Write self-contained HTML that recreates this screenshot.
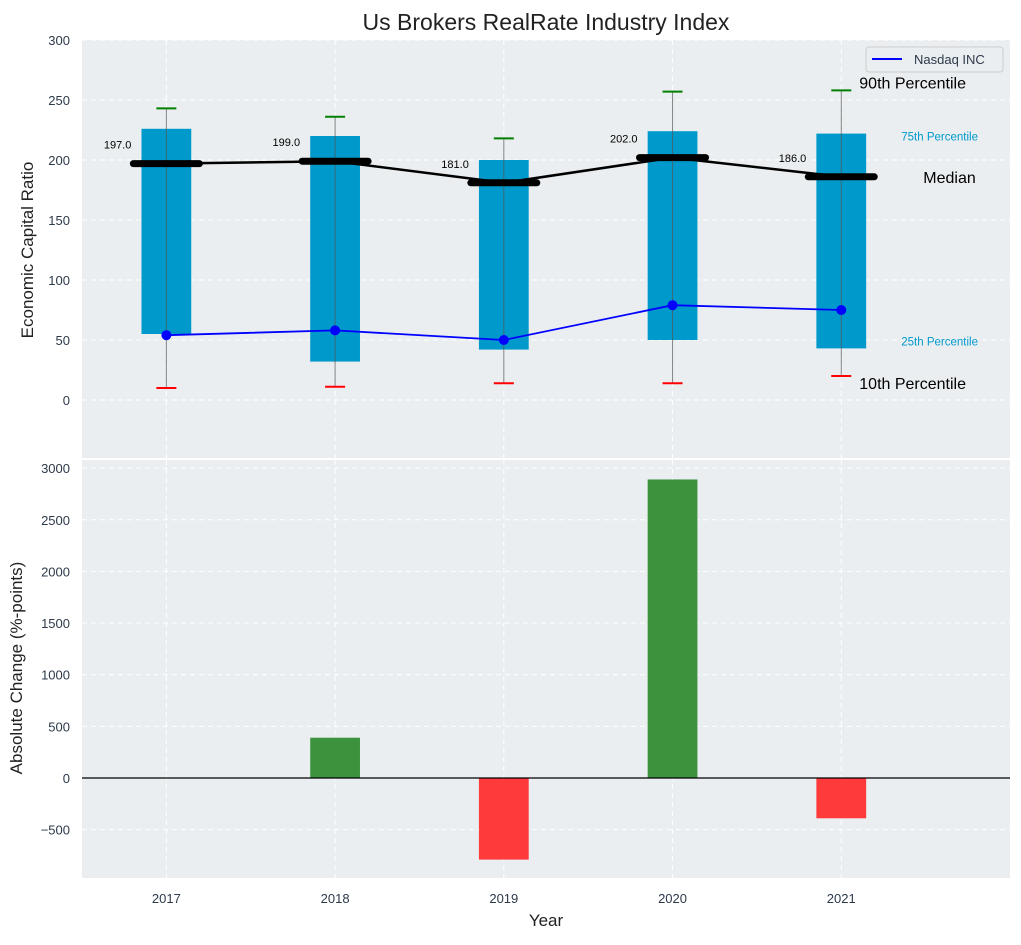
<!DOCTYPE html>
<html><head><meta charset="utf-8"><style>
body{margin:0;background:#fff;font-family:"Liberation Sans",sans-serif}
svg text{font-family:"Liberation Sans",sans-serif}
</style></head><body>
<svg id="c" width="1021" height="940"></svg>
<script>
const years=[2017,2018,2019,2020,2021];
const p10=[10,11,14,14,20];
const p25=[55,32,42,50,43];
const medians=[197,199,181,202,186];
const p75=[226,220,200,224,222];
const p90=[243,236,218,257,258];
const nasdaq=[54,58,50,79,75];
const changes=[0,390,-790,2890,-390];
const topTicks=[0,50,100,150,200,250,300];
const botTicks=[-500,0,500,1000,1500,2000,2500,3000];
const L=82,R=1010;
const X=v=>L+(v-2016.5)/(2022-2016.5)*(R-L);
const Y1=v=>400-v*1.2;
const Y2=v=>778-v*0.1033;
const svg=document.getElementById('c');
const NS='http://www.w3.org/2000/svg';
function el(t,a,txt){const e=document.createElementNS(NS,t);for(const k in a)e.setAttribute(k,a[k]);if(txt!==undefined)e.textContent=txt;svg.appendChild(e);return e;}
let e;
e=el('rect',{x:L,y:40,width:R-L,height:418,fill:'#eaeef0'});


e=el('rect',{x:L,y:460,width:R-L,height:418,fill:'#eaeef0'});


years.forEach(y=>{
 el('line',{x1:X(y),x2:X(y),y1:40,y2:458,stroke:'#fff','stroke-dasharray':'5,4','stroke-width':1});
 el('line',{x1:X(y),x2:X(y),y1:460,y2:878,stroke:'#fff','stroke-dasharray':'5,4','stroke-width':1});
 e=el('text',{x:X(y),y:903,'text-anchor':'middle','font-size':13,fill:'#2d3a4a'},y);
 
 
});
topTicks.forEach(t=>{
 el('line',{x1:L,x2:R,y1:Y1(t),y2:Y1(t),stroke:'#fff','stroke-dasharray':'5,4'});
 e=el('text',{x:70,y:Y1(t)+5,'text-anchor':'end','font-size':13,fill:'#2d3a4a'},t);
 
 
});
botTicks.forEach(t=>{
 el('line',{x1:L,x2:R,y1:Y2(t),y2:Y2(t),stroke:'#fff','stroke-dasharray':'5,4'});
 e=el('text',{x:70,y:Y2(t)+5,'text-anchor':'end','font-size':13,fill:'#2d3a4a'},t<0?'\u2212'+(-t):t);
 
 
});
const bw=0.295*(R-L)/5.5;
years.forEach((y,i)=>{
 const x=X(y);
 e=el('rect',{x:x-bw/2,y:Y1(p75[i]),width:bw,height:Y1(p25[i])-Y1(p75[i]),fill:'#0099cc'});
 
 
 el('line',{x1:x,x2:x,y1:Y1(p90[i]),y2:Y1(p10[i]),stroke:'#555','stroke-width':1,opacity:0.7});
 e=el('line',{x1:x-10,x2:x+10,y1:Y1(p90[i]),y2:Y1(p90[i]),stroke:'green','stroke-width':2});
 
 
 e=el('line',{x1:x-10,x2:x+10,y1:Y1(p10[i]),y2:Y1(p10[i]),stroke:'red','stroke-width':2});
 
 
 e=el('text',{x:x-35,y:Y1(medians[i])-15,'text-anchor':'end','font-size':11,fill:'#000'},medians[i].toFixed(1));
 
 
 const c=changes[i];
 e=el('rect',{x:x-bw/2,y:Math.min(Y2(c),Y2(0)),width:bw,height:Math.abs(Y2(c)-Y2(0)),fill:c>=0?'#2e8b2e':'#ff2a2a',opacity:0.92});
 
 
});
e=el('polyline',{points:years.map((y,i)=>X(y)+','+Y1(medians[i])).join(' '),fill:'none',stroke:'#000','stroke-width':2.5});


years.forEach((y,i)=>{
 e=el('line',{x1:X(y)-33,x2:X(y)+33,y1:Y1(medians[i]),y2:Y1(medians[i]),stroke:'#000','stroke-width':7,'stroke-linecap':'round'});
 
 
});
e=el('polyline',{points:years.map((y,i)=>X(y)+','+Y1(nasdaq[i])).join(' '),fill:'none',stroke:'#0000ff','stroke-width':1.8});


years.forEach((y,i)=>{
 e=el('circle',{cx:X(y),cy:Y1(nasdaq[i]),r:5,fill:'#0000ff'});
 
 
});
el('line',{x1:L,x2:R,y1:Y2(0),y2:Y2(0),stroke:'#000','stroke-width':1.2});
const lx=X(2021);
e=el('text',{x:lx+18,y:Y1(p90[4])-2,'font-size':16,fill:'#000'},'90th Percentile');

e=el('text',{x:lx+60,y:Y1(p75[4])+7,'font-size':11.5,fill:'#0099cc'},'75th Percentile');

e=el('text',{x:lx+82,y:Y1(medians[4])+6,'font-size':16,fill:'#000'},'Median');

e=el('text',{x:lx+60,y:Y1(p25[4])-3,'font-size':11.5,fill:'#0099cc'},'25th Percentile');

e=el('text',{x:lx+18,y:Y1(p10[4])+13,'font-size':16,fill:'#000'},'10th Percentile');

e=el('rect',{x:866,y:47,width:137,height:25,rx:3,fill:'#eaeef0',stroke:'#ccc'});

el('line',{x1:872,x2:902,y1:59,y2:59,stroke:'#0000ff','stroke-width':2});
e=el('text',{x:914,y:64,'font-size':13,fill:'#2d3a4a'},'Nasdaq INC');

e=el('text',{x:546,y:30,'text-anchor':'middle','font-size':23,fill:'#222'},'Us Brokers RealRate Industry Index');

e=el('text',{x:546,y:926,'text-anchor':'middle','font-size':17,fill:'#222'},'Year');

e=el('text',{x:33,y:250,'text-anchor':'middle','font-size':17,fill:'#222',transform:'rotate(-90 33 250)'},'Economic Capital Ratio');

e=el('text',{x:22,y:668,'text-anchor':'middle','font-size':17,fill:'#222',transform:'rotate(-90 22 668)'},'Absolute Change (%-points)');

</script>
</body></html>
